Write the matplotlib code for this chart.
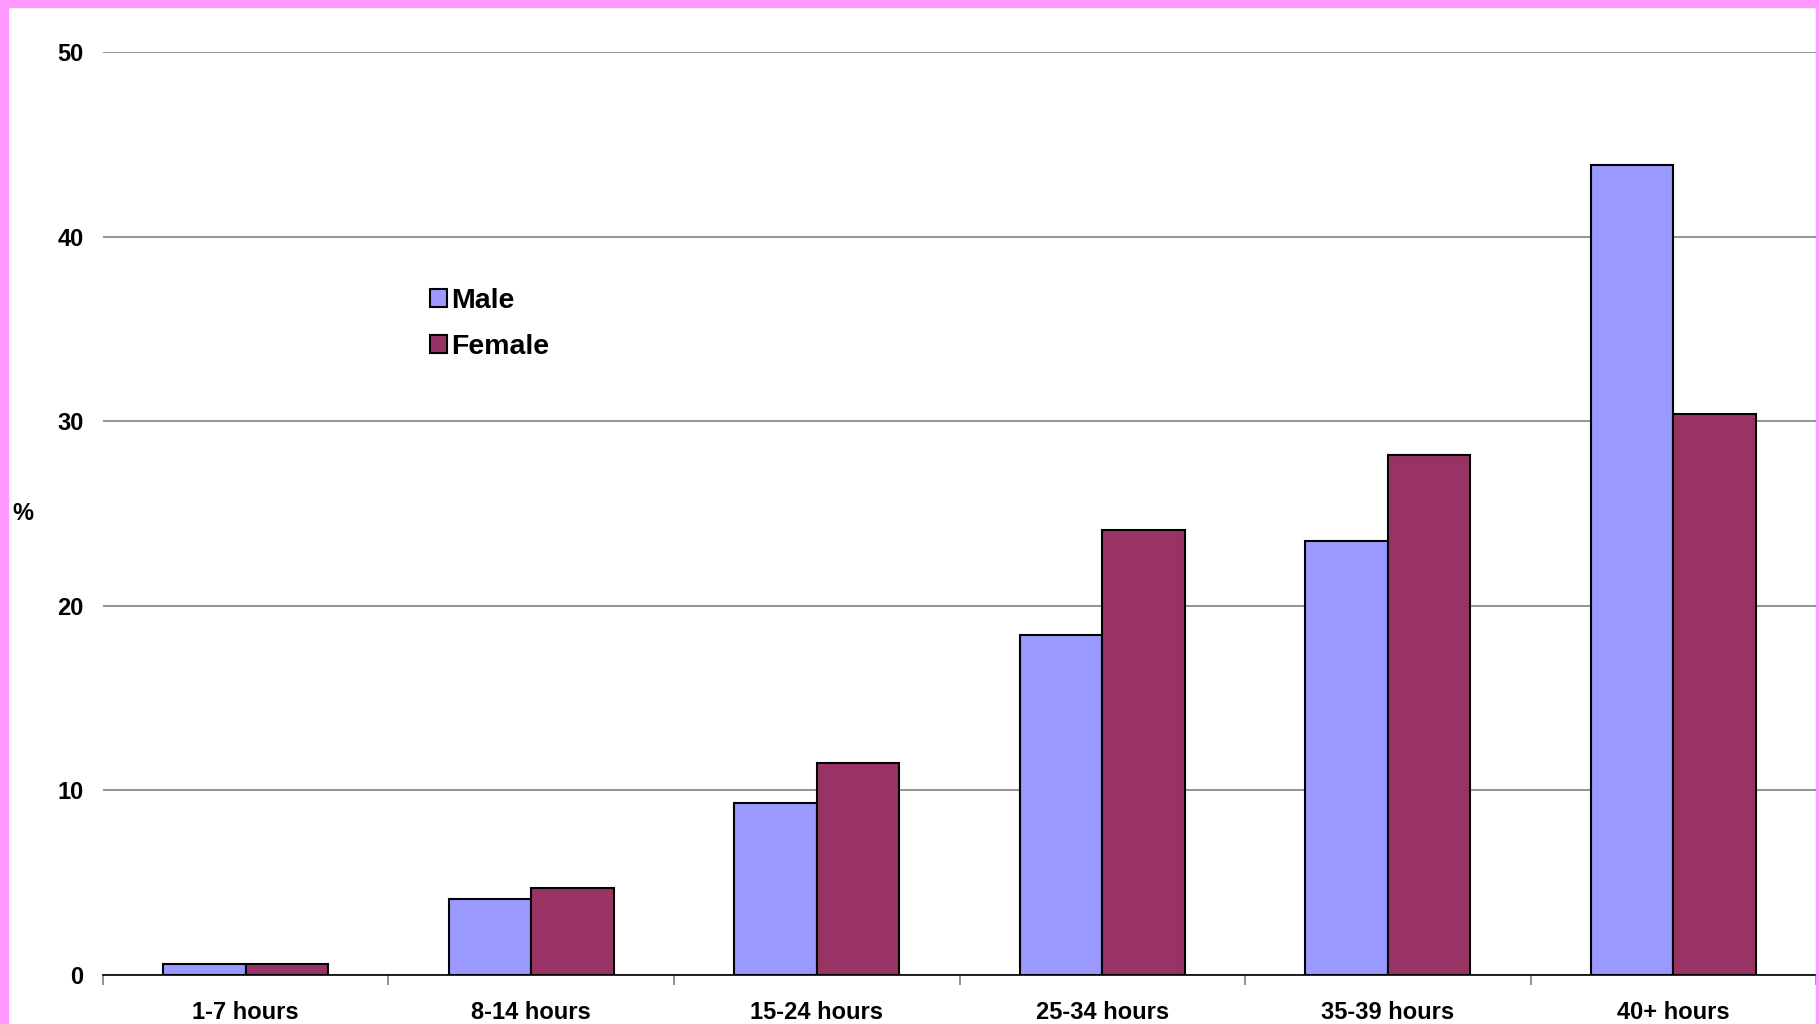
import numpy as np
import matplotlib.pyplot as plt
from matplotlib.patches import Rectangle

categories = ["1-7 hours", "8-14 hours", "15-24 hours", "25-34 hours", "35-39 hours", "40+ hours"]
male = [0.6, 4.1, 9.3, 18.4, 23.5, 43.9]
female = [0.6, 4.7, 11.5, 24.1, 28.2, 30.4]
yticks = [0, 10, 20, 30, 40, 50]

plt.rcParams['font.family'] = ['Liberation Sans', 'DejaVu Sans']
plt.rcParams['font.weight'] = 'bold'

fig = plt.figure(figsize=(18.19, 10.24), dpi=100)
ax = fig.add_axes([0.0566, 0.0479, 0.9418, 0.9011])

x = np.arange(len(categories))
w = 0.289
ax.bar(x - w / 2, male, w, color="#9999FF", edgecolor="black", linewidth=1.5, label="Male", zorder=3)
ax.bar(x + w / 2, female, w, color="#993366", edgecolor="black", linewidth=1.5, label="Female", zorder=3)

ax.set_xlim(-0.5, len(categories) - 0.5)
ax.set_ylim(0, 50)
ax.set_yticks(yticks)
ax.set_yticklabels([str(v) for v in yticks], fontsize=17, fontweight="bold")
ax.tick_params(axis="y", length=0, pad=14)
ax.yaxis.grid(True, color="#808080", linewidth=1.2, zorder=0)

ax.set_xticks(x)
ax.set_xticklabels(categories, fontsize=17, fontweight="bold")
ax.set_xticks(np.arange(len(categories) + 1) - 0.5, minor=True)
ax.tick_params(axis="x", which="major", length=0, pad=18.5)
ax.tick_params(axis="x", which="minor", length=7, color="#808080", width=1.2)

for s in ["top", "right", "left"]:
    ax.spines[s].set_visible(False)
ax.spines["bottom"].set_color("black")
ax.spines["bottom"].set_linewidth(1.2)

fig.text(0.0126, 0.499, "%", fontsize=17, fontweight="bold", ha="center", va="center")

leg = ax.legend(loc="upper left", bbox_to_anchor=(0.184, 0.757), frameon=False,
                fontsize=20.5, handlelength=0.6, handleheight=0.6, handletextpad=0.17,
                labelspacing=0.7, borderaxespad=0)
for t in leg.get_texts():
    t.set_fontweight("bold")

pink = "#FF99FF"
W, H = 1819, 1024
fig.patches.append(Rectangle((0, 1 - 7 / H), 1, 7 / H, transform=fig.transFigure, color=pink, zorder=10))
fig.patches.append(Rectangle((0, 0), 8 / W, 1, transform=fig.transFigure, color=pink, zorder=10))
fig.patches.append(Rectangle((1 - 3 / W, 0), 3 / W, 1, transform=fig.transFigure, color=pink, zorder=10))

fig.savefig("out.png", dpi=100)
